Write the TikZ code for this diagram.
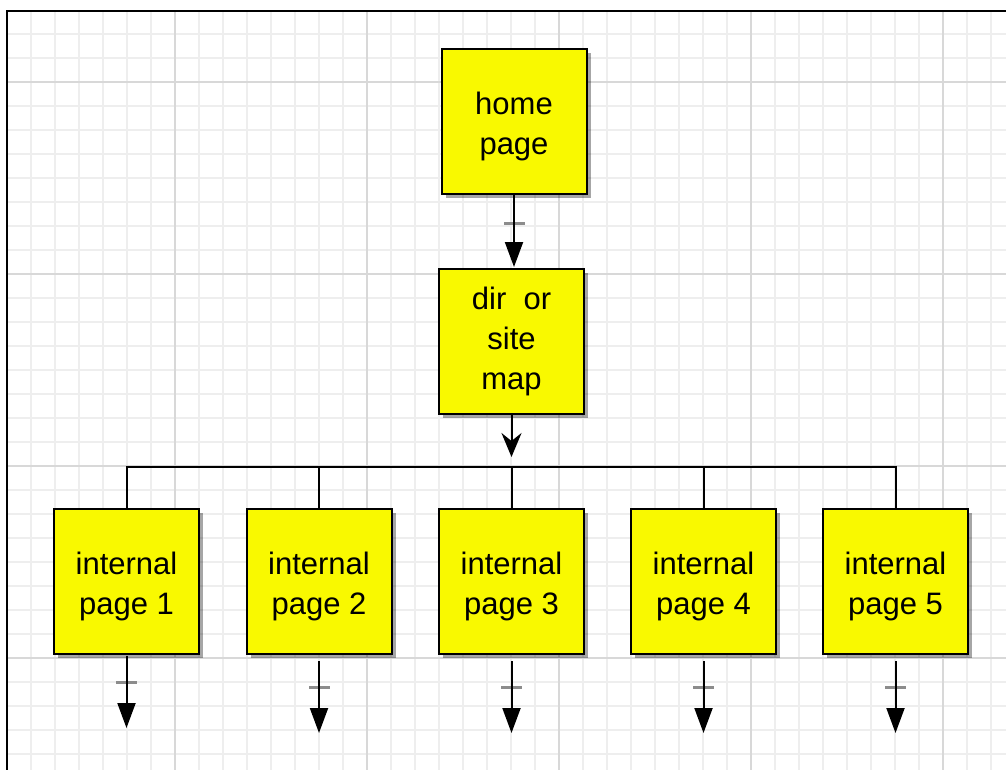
\documentclass[tikz,border=0pt]{standalone}
\usepackage{fontspec}
\setmainfont{Liberation Sans}
\usetikzlibrary{arrows.meta,shadows,calc}
\definecolor{boxyellow}{RGB}{249,249,0}
\definecolor{minorgrid}{RGB}{238,238,238}
\definecolor{majorgrid}{RGB}{216,216,216}
\definecolor{tickgray}{RGB}{140,140,140}
\newcommand{\toppad}{\rule{0pt}{32pt}}
\begin{document}
\begin{tikzpicture}[x=1pt,y=-1pt,
  pagebox/.style={draw=black, line width=2pt, fill=boxyellow,
    minimum width=145pt, minimum height=145pt, align=center,
    font=\fontsize{31}{40}\selectfont, inner sep=0pt,
    drop shadow={shadow xshift=4pt, shadow yshift=-4pt, opacity=0.35, fill=black}},
  link/.style={line width=2pt, -{Triangle[width=18pt,length=25pt]}},
  vlink/.style={line width=2pt, -{Stealth[width=20pt,length=24pt,inset=8pt]}},
  busline/.style={line width=2pt},
  tickmark/.style={fill=tickgray, minimum width=21pt, minimum height=3pt, inner sep=0pt},
  minorline/.style={draw=minorgrid, line width=2pt},
  majorline/.style={draw=majorgrid, line width=2pt},
]
\useasboundingbox (0,0) rectangle (1006,770);
\fill[white] (0,0) rectangle (1006,770);
% grid
\foreach \x in {31,55,...,1006} \draw[minorline] (\x,11) -- (\x,770);
\foreach \y in {34,58,...,770} \draw[minorline] (7,\y) -- (1006,\y);
\foreach \x in {175,367,559,751,943} \draw[majorline] (\x,11) -- (\x,770);
\foreach \y in {82,274,466,658} \draw[majorline] (7,\y) -- (1006,\y);
% frame
\draw[line width=2.5pt] (7,770) -- (7,11) -- (1006,11);

% nodes
\node[pagebox] (home) at (514,122) {\toppad home\\page};
\node[pagebox] (dir) at (511.5,341.5) {dir\ \ or\\site\\map};
\node[pagebox] (i1) at (126.5,581.5) {\toppad internal\\page 1};
\node[pagebox] (i2) at (319,581.5) {\toppad internal\\page 2};
\node[pagebox] (i3) at (511.5,581.5) {\toppad internal\\page 3};
\node[pagebox] (i4) at (703.5,581.5) {\toppad internal\\page 4};
\node[pagebox] (i5) at (895.5,581.5) {\toppad internal\\page 5};

\coordinate (bus) at (511.5,467);
\coordinate (e1) at (126.5,728);
\coordinate (e2) at (319,733);
\coordinate (e3) at (511.5,733);
\coordinate (e4) at (703.5,733);
\coordinate (e5) at (895.5,733);

% tick marks
\node[tickmark] (t0) at (514,223) {};
\node[tickmark] (t1) at (126.5,682) {};
\node[tickmark] (t2) at (319,687) {};
\node[tickmark] (t3) at (511.5,687) {};
\node[tickmark] (t4) at (703.5,687) {};
\node[tickmark] (t5) at (895.5,687) {};

% connectors
\draw[link, shorten >=1pt] (home.south) -- (home.south |- dir.north);
\draw[vlink, shorten >=10pt] (dir.south) -- (bus);
\draw[busline] (i1.north) |- (bus) -| (i5.north);
\draw[busline] (i2.north) -- (i2.north |- bus);
\draw[busline] (i3.north) -- (bus);
\draw[busline] (i4.north) -- (i4.north |- bus);
\draw[link, shorten <=1pt] (i1.south) -- (e1);
\draw[link, shorten <=6pt] (i2.south) -- (e2);
\draw[link, shorten <=6pt] (i3.south) -- (e3);
\draw[link, shorten <=6pt] (i4.south) -- (e4);
\draw[link, shorten <=6pt] (i5.south) -- (e5);
\end{tikzpicture}
\end{document}
